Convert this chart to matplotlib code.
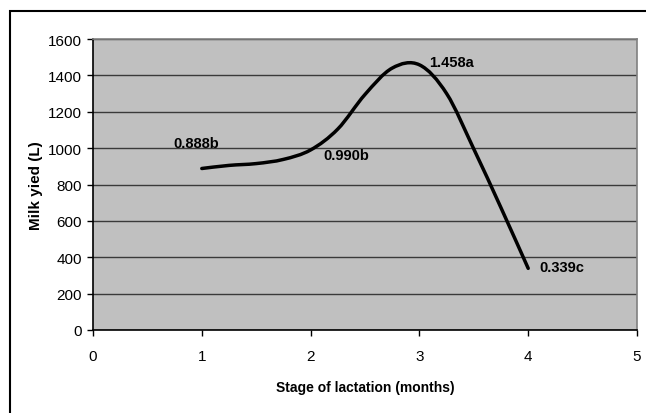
import matplotlib
matplotlib.use("Agg")
import matplotlib.pyplot as plt
from matplotlib.path import Path
from matplotlib.patches import PathPatch, Rectangle
from matplotlib import font_manager

# ---- data ----
months = [1.0, 1.25, 1.5, 1.75, 2.0, 2.25, 2.5, 2.75, 3.0, 3.25, 3.5, 3.75, 4.0]
milk_yield = [888, 905, 915, 938, 990, 1105, 1295, 1440, 1458, 1300, 995, 672, 339]
label_x = [1, 2, 3, 4]
label_y = [888, 990, 1458, 339]
label_text = ["0.888b", "0.990b", "1.458a", "0.339c"]
x_ticks = [0, 1, 2, 3, 4, 5]
y_ticks = [0, 200, 400, 600, 800, 1000, 1200, 1400, 1600]

names = {f.name for f in font_manager.fontManager.ttflist}
fam = [f for f in ["Liberation Sans Narrow", "Liberation Sans", "DejaVu Sans"] if f in names]
plt.rcParams['font.family'] = fam

W, H = 646, 414
fig = plt.figure(figsize=(W / 100, H / 100), dpi=100)
fig.patch.set_facecolor("white")
ax = fig.add_axes([93 / W, 1 - 331 / H, (637 - 93) / W, (331 - 40) / H])
ax.set_facecolor("#C0C0C0")
ax.set_xlim(0, 5)
ax.set_ylim(0, 1600)
ax.set_xticks(x_ticks)
ax.set_yticks(y_ticks)
ax.grid(axis="y", color="#3a3a3a", linewidth=1.0)
ax.set_axisbelow(True)
for s in ["top", "right"]:
    ax.spines[s].set_color("#808080")
    ax.spines[s].set_linewidth(1.2)
for s in ["left", "bottom"]:
    ax.spines[s].set_color("black")
    ax.spines[s].set_linewidth(1.2)
ax.tick_params(direction="out", length=4, width=1, colors="black", labelsize=11)
ax.tick_params(axis="x", pad=10)
ax.tick_params(axis="y", pad=4)

# smoothed line (Catmull-Rom style Bezier, like spreadsheet "smoothed line")
pts = list(zip(months, milk_yield))
verts = [pts[0]]
codes = [Path.MOVETO]
n = len(pts)
for i in range(n - 1):
    p0 = pts[i - 1] if i > 0 else pts[i]
    p1 = pts[i]
    p2 = pts[i + 1]
    p3 = pts[i + 2] if i + 2 < n else pts[i + 1]
    c1 = (p1[0] + (p2[0] - p0[0]) / 6, p1[1] + (p2[1] - p0[1]) / 6)
    c2 = (p2[0] - (p3[0] - p1[0]) / 6, p2[1] - (p3[1] - p1[1]) / 6)
    verts += [c1, c2, p2]
    codes += [Path.CURVE4, Path.CURVE4, Path.CURVE4]
patch = PathPatch(Path(verts, codes), facecolor="none", edgecolor="black",
                  linewidth=2.5, capstyle="round", joinstyle="round", zorder=3)
ax.add_patch(patch)

offsets = [(-4, 18), (9, -4), (7, 2), (8, 1)]
aligns = ["center", "left", "left", "left"]
for x, y, t, off, ha in zip(label_x, label_y, label_text, offsets, aligns):
    ax.annotate(t, (x, y), xytext=off, textcoords="offset points",
                ha=ha, va="center", fontsize=10.5, fontweight="bold", zorder=4)

ax.set_xlabel("Stage of lactation (months)", fontsize=10, fontweight="bold", labelpad=12)
ax.set_ylabel("Milk yied (L)", fontsize=11, fontweight="bold", labelpad=3.5)

# outer chart border
fig.patches.append(Rectangle((9.5 / W, -0.05), 1.2, 1 - 11.5 / H + 0.05,
                             transform=fig.transFigure, fill=False,
                             edgecolor="black", linewidth=1.5))

fig.savefig("out.png", dpi=100)
